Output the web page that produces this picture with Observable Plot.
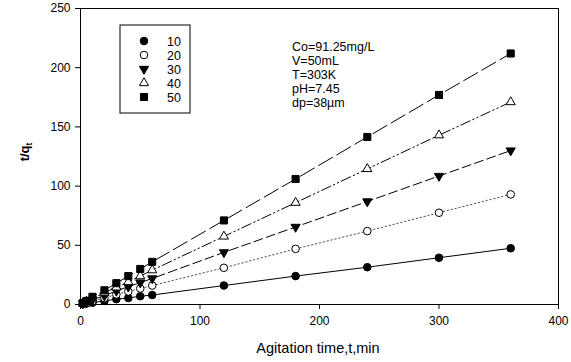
<!DOCTYPE html>
<html>
<head>
<meta charset="utf-8">
<script src="https://cdn.jsdelivr.net/npm/d3@7"></script>
<script src="https://cdn.jsdelivr.net/npm/@observablehq/plot@0.6"></script>
<style>
  body { margin: 0; background: #fff; }
  #chart svg { font-family: "Liberation Sans", Arial, sans-serif; }
</style>
</head>
<body>
<div id="chart"></div>
<script>
const times = [2, 5, 10, 20, 30, 40, 50, 60, 120, 180, 240, 300, 360];
const s10 = [0.4, 0.8, 1.5, 3, 4.5, 5.5, 7, 8, 16, 24, 31.5, 39.5, 47.5];
const s20 = [0.6, 1.4, 2.8, 5.5, 8.5, 11, 13.5, 16, 31, 47, 62, 77.5, 93];
const s30 = [0.8, 2, 4, 7.5, 11.5, 15, 18.5, 22, 44, 65.5, 87, 108.5, 130];
const s40 = [1, 2.5, 5, 10, 14.5, 19, 24, 29, 57.5, 86, 114.5, 143, 171];
const s50 = [1.3, 3, 6.5, 12, 18, 24, 30, 36, 71, 106, 141.5, 177, 212];
const seriesNames = ["10", "20", "30", "40", "50"];
const xTicks = [0, 100, 200, 300, 400];
const yTicks = [0, 50, 100, 150, 200, 250];
const notes = ["Co=91.25mg/L", "V=50mL", "T=303K", "pH=7.45", "dp=38\u00b5m"];

const seriesValues = [s10, s20, s30, s40, s50];
const styles = [
  {symbol: "circle", fill: "black", rotate: 0, dash: null, stroke: "black", r: 3.8},
  {symbol: "circle", fill: "white", rotate: 0, dash: "1.5,2.5", stroke: "#555", r: 3.8},
  {symbol: "triangle", fill: "black", rotate: 180, dash: "9,4", stroke: "black", r: 3.4},
  {symbol: "triangle", fill: "white", rotate: 0, dash: "10,3,1.5,3,1.5,3", stroke: "black", r: 3.4},
  {symbol: "square", fill: "black", rotate: 0, dash: "16,5", stroke: "black", r: 4}
];

const data = [];
seriesValues.forEach((vals, i) => {
  vals.forEach((v, j) => data.push({series: seriesNames[i], t: times[j], y: v}));
});

const marks = [Plot.frame({stroke: "black"})];
seriesNames.forEach((name, i) => {
  const st = styles[i];
  const d = data.filter(p => p.series === name);
  marks.push(Plot.line(d, {x: "t", y: "y", stroke: st.stroke, strokeWidth: 1, strokeDasharray: st.dash}));
});
seriesNames.forEach((name, i) => {
  const st = styles[i];
  const d = data.filter(p => p.series === name);
  marks.push(Plot.dot(d, {x: "t", y: "y", symbol: () => st.symbol, r: st.r, fill: st.fill, stroke: "black", strokeWidth: 1, rotate: st.rotate}));
});
marks.push(Plot.axisX({ticks: xTicks, tickSize: 5, tickPadding: 7, fontSize: 12, label: null}));
marks.push(Plot.axisY({ticks: yTicks, tickSize: 5, tickPadding: 5, fontSize: 12, label: null}));

const chart = Plot.plot({
  width: 571,
  height: 362,
  marginLeft: 80,
  marginRight: 13,
  marginTop: 8,
  marginBottom: 58,
  x: {domain: [0, 400]},
  y: {domain: [0, 250]},
  symbol: {type: "identity"},
  style: {fontFamily: "Liberation Sans, Arial, sans-serif", color: "black", background: "white"},
  marks
});
document.getElementById("chart").appendChild(chart);

const svg = d3.select(chart);
// axis titles
svg.append("text").attr("x", 318).attr("y", 353).attr("text-anchor", "middle")
  .attr("font-size", 14.5).attr("fill", "black").text("Agitation time,t,min");
const yl = svg.append("text").attr("transform", "translate(29,152) rotate(-90)")
  .attr("text-anchor", "middle").attr("font-size", 13).attr("font-weight", "bold").attr("fill", "black");
yl.append("tspan").text("t/q");
yl.append("tspan").attr("font-size", 8.5).attr("dy", 3).text("t");

// legend
const lg = svg.append("g").attr("text-anchor", "start");
lg.append("rect").attr("x", 120).attr("y", 25).attr("width", 70).attr("height", 88)
  .attr("fill", "white").attr("stroke", "black").attr("stroke-width", 1);
const symMap = {circle: d3.symbolCircle, triangle: d3.symbolTriangle, square: d3.symbolSquare};
seriesNames.forEach((name, i) => {
  const st = styles[i];
  const yy = 41 + i * 14;
  const area = Math.PI * st.r * st.r;
  lg.append("path").attr("d", d3.symbol(symMap[st.symbol], area)())
    .attr("transform", `translate(144,${yy}) rotate(${st.rotate})`)
    .attr("fill", st.fill).attr("stroke", "black").attr("stroke-width", 1);
  lg.append("text").attr("x", 167).attr("y", yy + 4.5).attr("text-anchor", "start")
    .attr("font-size", 12.5).attr("fill", "black").text(name);
});

// annotation
const an = svg.append("g").attr("text-anchor", "start");
notes.forEach((s, i) => {
  an.append("text").attr("x", 292).attr("y", 51 + i * 14).attr("text-anchor", "start")
    .attr("font-size", 12.5).attr("fill", "black").text(s);
});
</script>
</body>
</html>
